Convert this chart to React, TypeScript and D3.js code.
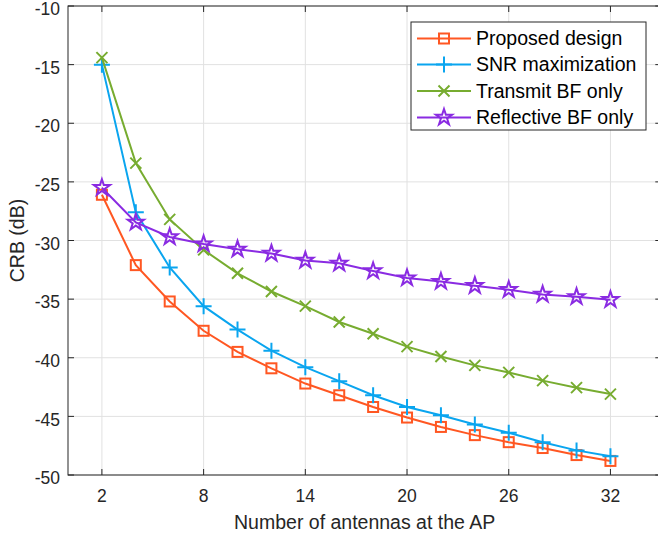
import React, { useEffect, useRef } from "react";
import * as d3 from "d3";

// number of antennas at the AP
const antennas = [2, 4, 6, 8, 10, 12, 14, 16, 18, 20, 22, 24, 26, 28, 30, 32];

// CRB in dB
const proposed = [-26.1, -32.1, -35.2, -37.7, -39.5, -40.9, -42.2, -43.2, -44.2, -45.1, -45.9, -46.6, -47.2, -47.7, -48.3, -48.8];
const snrMax = [-15.0, -27.6, -32.3, -35.6, -37.6, -39.4, -40.8, -42.0, -43.2, -44.2, -44.9, -45.7, -46.4, -47.2, -47.9, -48.4];
const transmitOnly = [-14.4, -23.4, -28.2, -30.8, -32.8, -34.35, -35.6, -36.95, -37.95, -39.05, -39.9, -40.65, -41.25, -41.95, -42.55, -43.1];
const reflectiveOnly = [-25.5, -28.45, -29.7, -30.3, -30.75, -31.1, -31.7, -31.95, -32.6, -33.2, -33.5, -33.85, -34.2, -34.6, -34.8, -35.05];

const seriesNames = ["Proposed design", "SNR maximization", "Transmit BF only", "Reflective BF only"];
const seriesValues = [proposed, snrMax, transmitOnly, reflectiveOnly];
const seriesColors = ["#ff5722", "#0aa5ef", "#77ac30", "#8a2be2"];
const seriesMarkers = ["square", "plus", "cross", "star"];

const xTicks = [2, 8, 14, 20, 26, 32];
const yTicks = [-50, -45, -40, -35, -30, -25, -20, -15, -10];

const W = 658;
const H = 537;
const FONT = "'Liberation Sans', Arial, Helvetica, sans-serif";
const AXIS = "#262626";

function starPath(r: number) {
  const pts: [number, number][] = [];
  for (let i = 0; i < 10; i++) {
    const rad = i % 2 === 0 ? r : r * 0.382;
    const a = -Math.PI / 2 + (i * Math.PI) / 5;
    pts.push([rad * Math.cos(a), rad * Math.sin(a)]);
  }
  return "M" + pts.map((p) => p[0].toFixed(2) + "," + p[1].toFixed(2)).join("L") + "Z";
}

function drawMarker(g: any, kind: string, color: string) {
  if (kind === "square") {
    g.append("rect").attr("x", -5).attr("y", -5).attr("width", 10).attr("height", 10)
      .attr("fill", "none").attr("stroke", color).attr("stroke-width", 2);
  } else if (kind === "plus") {
    g.append("path").attr("d", "M-8,0H8M0,-8V8")
      .attr("stroke", color).attr("stroke-width", 2).attr("fill", "none");
  } else if (kind === "cross") {
    g.append("path").attr("d", "M-5.5,-5.5L5.5,5.5M-5.5,5.5L5.5,-5.5")
      .attr("stroke", color).attr("stroke-width", 2).attr("fill", "none");
  } else {
    g.append("path").attr("d", starPath(8.5))
      .attr("stroke", color).attr("stroke-width", 2).attr("fill", "none")
      .attr("stroke-linejoin", "miter");
  }
}

export default function App() {
  const ref = useRef<SVGSVGElement>(null);

  useEffect(() => {
    const svg = d3.select(ref.current);
    svg.selectAll("*").remove();

    const left = 68, top = 6, bottom = 475, right = 661.3;
    const x = d3.scaleLinear().domain([0, 35]).range([left, right]);
    const y = d3.scaleLinear().domain([-50, -10]).range([bottom, top]);

    svg.append("rect").attr("width", W).attr("height", H).attr("fill", "#fff");

    // grid
    const grid = svg.append("g").attr("stroke", "#e1e1e1").attr("stroke-width", 1);
    xTicks.forEach((t) => {
      grid.append("line").attr("x1", x(t)).attr("x2", x(t)).attr("y1", top).attr("y2", bottom);
    });
    yTicks.forEach((t) => {
      grid.append("line").attr("x1", left).attr("x2", right).attr("y1", y(t)).attr("y2", y(t));
    });

    // axes box + inward ticks
    const ax = svg.append("g").attr("stroke", AXIS).attr("stroke-width", 1).attr("fill", "none");
    ax.append("rect").attr("x", left).attr("y", top).attr("width", right - left).attr("height", bottom - top);
    xTicks.forEach((t) => {
      ax.append("line").attr("x1", x(t)).attr("x2", x(t)).attr("y1", bottom).attr("y2", bottom - 6);
      ax.append("line").attr("x1", x(t)).attr("x2", x(t)).attr("y1", top).attr("y2", top + 6);
    });
    yTicks.forEach((t) => {
      ax.append("line").attr("x1", left).attr("x2", left + 6).attr("y1", y(t)).attr("y2", y(t));
      ax.append("line").attr("x1", right).attr("x2", right - 6).attr("y1", y(t)).attr("y2", y(t));
    });

    // tick labels
    svg.append("g").selectAll("text").data(xTicks).enter().append("text")
      .attr("x", (d) => x(d)).attr("y", 496).attr("dy", "0.35em")
      .attr("text-anchor", "middle").attr("font-family", FONT).attr("font-size", 17.5)
      .attr("fill", AXIS).text((d) => String(d));
    svg.append("g").selectAll("text").data(yTicks).enter().append("text")
      .attr("x", 60).attr("y", (d) => y(d) + 3).attr("dy", "0.35em")
      .attr("text-anchor", "end").attr("font-family", FONT).attr("font-size", 17.5)
      .attr("fill", AXIS).text((d) => String(d));

    // axis labels
    svg.append("text").attr("x", (left + right) / 2).attr("y", 522).attr("dy", "0.35em")
      .attr("text-anchor", "middle").attr("font-family", FONT).attr("font-size", 19.5)
      .attr("fill", AXIS).text("Number of antennas at the AP");
    svg.append("text").attr("transform", `translate(17,${(top + bottom) / 2}) rotate(-90)`)
      .attr("dy", "0.35em").attr("text-anchor", "middle").attr("font-family", FONT)
      .attr("font-size", 19.5).attr("fill", AXIS).text("CRB (dB)");

    // series
    const line = d3.line<number>().x((d, i) => x(antennas[i])).y((d) => y(d));
    seriesValues.forEach((vals, s) => {
      const g = svg.append("g");
      g.append("path").attr("d", line(vals) as string).attr("fill", "none")
        .attr("stroke", seriesColors[s]).attr("stroke-width", 2);
      vals.forEach((v, i) => {
        const m = g.append("g").attr("transform", `translate(${x(antennas[i])},${y(v)})`);
        drawMarker(m, seriesMarkers[s], seriesColors[s]);
      });
    });

    // legend
    const lg = svg.append("g");
    lg.append("rect").attr("x", 411).attr("y", 22).attr("width", 235).attr("height", 108)
      .attr("fill", "#fff").attr("stroke", AXIS).attr("stroke-width", 1);
    const rowY = [38.5, 64.5, 91, 117.5];
    seriesNames.forEach((name, s) => {
      lg.append("line").attr("x1", 417).attr("x2", 471).attr("y1", rowY[s]).attr("y2", rowY[s])
        .attr("stroke", seriesColors[s]).attr("stroke-width", 2);
      const m = lg.append("g").attr("transform", `translate(444,${rowY[s]})`);
      drawMarker(m, seriesMarkers[s], seriesColors[s]);
      lg.append("text").attr("x", 476).attr("y", rowY[s]).attr("dy", "0.35em")
        .attr("font-family", FONT).attr("font-size", 19.5).attr("fill", "#000").text(name);
    });
  }, []);

  return (
    <svg ref={ref} width={W} height={H} style={{ position: "absolute", left: 0, top: 0 }} />
  );
}
